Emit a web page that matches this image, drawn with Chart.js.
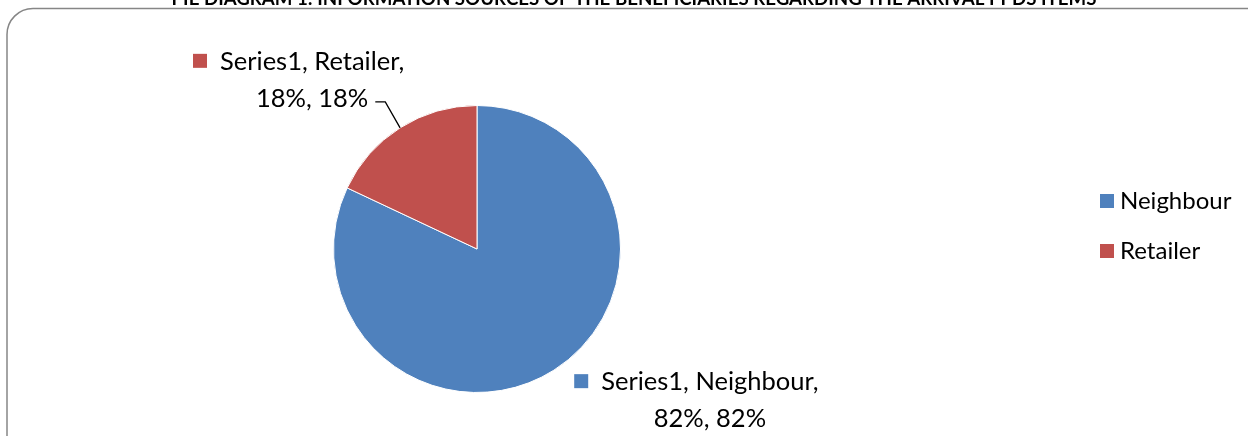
<!DOCTYPE html>
<html>
<head>
<meta charset="utf-8">
<script src="https://cdn.jsdelivr.net/npm/chart.js@4.4.1/dist/chart.umd.min.js"></script>
<style>
  html, body { margin: 0; padding: 0; background: #fff; }
  #wrap { width: 1248px; height: 436px; position: relative; }
</style>
</head>
<body>
<div id="wrap"><canvas id="chart-area" width="1248" height="436"></canvas></div>
<script>
var titleText = 'PIE DIAGRAM 1: INFORMATION SOURCES OF THE BENEFICIARIES REGARDING THE ARRIVAL PPDS ITEMS';
var seriesName = 'Series1';
var categories = ['Neighbour', 'Retailer'];
var percents = [82, 18];
var sliceColors = ['#4F81BD', '#C0504D'];

var FONT = 'Lato, "Open Sans", sans-serif';

// label placement, relative to the middle of each slice's outer edge
var labelOffsets = [
  { dx: 156, dy: 31, leader: false },
  { dx: -88, dy: -47, leader: true }
];

var decorations = {
  id: 'decorations',
  beforeDraw: function(chart) {
    var ctx = chart.ctx;
    ctx.save();
    ctx.strokeStyle = '#868686';
    ctx.lineWidth = 1.5;
    ctx.beginPath();
    ctx.roundRect(7, 8.5, 1280, 460, 26);
    ctx.stroke();
    ctx.restore();
  },
  afterDraw: function(chart) {
    var ctx = chart.ctx;
    ctx.save();
    // title, only its lower part is inside the picture
    ctx.fillStyle = '#000';
    ctx.font = 'bold 18.7px ' + FONT;
    ctx.textAlign = 'center';
    ctx.textBaseline = 'alphabetic';
    ctx.fillText(titleText, 634, 5);

    var meta = chart.getDatasetMeta(0);
    ctx.font = '25.5px ' + FONT;
    meta.data.forEach(function(arc, i) {
      var mid = (arc.startAngle + arc.endAngle) / 2;
      var ex = arc.x + Math.cos(mid) * arc.outerRadius;
      var ey = arc.y + Math.sin(mid) * arc.outerRadius;
      var off = labelOffsets[i];
      var cx = ex + off.dx, cy = ey + off.dy;
      var line1 = seriesName + ', ' + categories[i] + ',';
      var line2 = percents[i] + '%, ' + percents[i] + '%';
      ctx.textAlign = 'center';
      ctx.textBaseline = 'middle';
      ctx.fillStyle = '#000';
      ctx.fillText(line1, cx, cy - 19);
      ctx.fillText(line2, cx, cy + 18);
      var w1 = ctx.measureText(line1).width;
      ctx.fillStyle = sliceColors[i];
      ctx.fillRect(cx - w1 / 2 - 27, cy - 27, 14, 14);
      if (off.leader) {
        var w2 = ctx.measureText(line2).width;
        var lx = cx + w2 / 2 + 7;
        ctx.strokeStyle = '#000';
        ctx.lineWidth = 1.3;
        ctx.beginPath();
        ctx.moveTo(lx, cy + 21);
        ctx.lineTo(lx + 10, cy + 21);
        ctx.lineTo(ex, ey);
        ctx.stroke();
      }
    });

    // legend
    ctx.font = '24px ' + FONT;
    categories.forEach(function(c, i) {
      var y = 201 + i * 50;
      ctx.fillStyle = sliceColors[i];
      ctx.fillRect(1100, y - 7, 14, 14);
      ctx.fillStyle = '#000';
      ctx.textAlign = 'left';
      ctx.textBaseline = 'middle';
      ctx.fillText(c, 1120, y);
    });
    ctx.restore();
  }
};

var config = {
  type: 'pie',
  data: {
    labels: categories,
    datasets: [{
      data: percents,
      backgroundColor: sliceColors,
      borderColor: '#ffffff',
      borderWidth: 1,
      label: seriesName
    }]
  },
  options: {
    responsive: false,
    animation: false,
    layout: { padding: { left: 333, right: 627, top: 105, bottom: 43 } },
    plugins: {
      legend: { display: false },
      tooltip: { enabled: false }
    }
  },
  plugins: [decorations]
};

var ctx = document.getElementById('chart-area').getContext('2d');
window.myPie = new Chart(ctx, config);
</script>
</body>
</html>
